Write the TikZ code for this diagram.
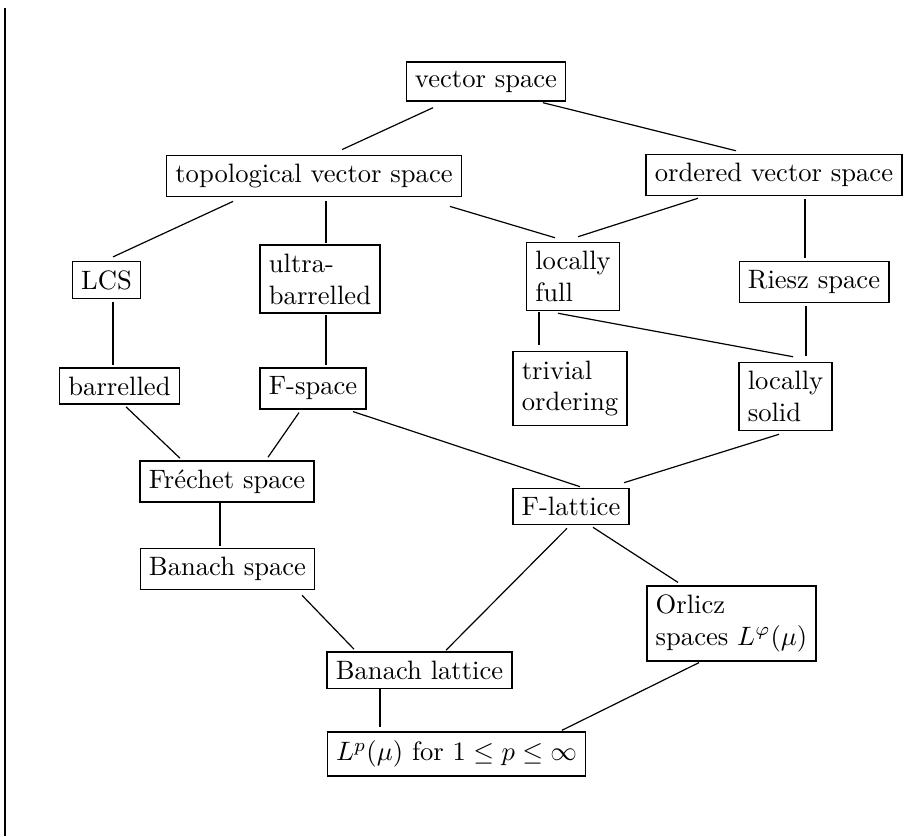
\documentclass[tikz,border=0pt]{standalone}
\begin{document}
\begin{tikzpicture}[x=0.376pt,y=-0.376pt,
  box/.style={draw, inner sep=3.3pt, align=left, line width=0.5pt},
  conn/.style={line width=0.45pt},
  bar/.style={line width=0.8pt}]
\useasboundingbox (0,0) rectangle (904,836);
\coordinate (bartop) at (5,8);
\coordinate (barbot) at (5,836);
\draw[bar] (bartop) -- (barbot);

\node[box] (vec) at (486,81.5) {vector space};
\node[box] (tvs) at (314,176) {topological vector space};
\node[box] (ovs) at (774,175) {ordered vector space};
\node[box] (lcs) at (106.5,280) {LCS};
\node[box] (ultra) at (320,279) {ultra-\\barrelled};
\node[box] (lfull) at (573,276.5) {locally\\full};
\node[box] (riesz) at (814,282) {Riesz space};
\node[box] (barrelled) at (119.5,386) {barrelled};
\node[box] (fspace) at (313,388.5) {F-space};
\node[box] (trivial) at (570,388.5) {trivial\\ordering};
\node[box] (lsolid) at (785.5,396.5) {locally\\solid};
\node[box] (frechet) at (227,481.5) {Fr\'echet space};
\node[box] (flattice) at (571,506.5) {F-lattice};
\node[box] (banach) at (227.5,569) {Banach space};
\node[box] (orlicz) at (731.5,623.5) {Orlicz\\spaces $L^\varphi(\mu)$};
\node[box] (blattice) at (419.5,670) {Banach lattice};
\node[box] (lp) at (456.5,754) {$L^p(\mu)$ for $1\le p\le\infty$};

\draw[conn] ([shift={(-53,6)}]vec.south) -- ([shift={(28,-5)}]tvs.north);
\draw[conn] ([shift={(57,1)}]vec.south) -- ([shift={(-38,-3)}]ovs.north);
\draw[conn] ([shift={(-81,4)}]tvs.south) -- ([shift={(6.5,-4)}]lcs.north);
\draw[conn] ([shift={(12,4)}]tvs.south) -- ([shift={(6,-1)}]ultra.north);
\draw[conn] ([shift={(136,9)}]tvs.south) -- ([shift={(-18,-4)}]lfull.north);
\draw[conn] ([shift={(-76,2)}]ovs.south) -- ([shift={(5,-5)}]lfull.north);
\draw[conn] ([shift={(31,3)}]ovs.south) -- ([shift={(-9,-3)}]riesz.north);
\draw[conn] ([shift={(6.5,3)}]lcs.south) -- ([shift={(-6.5,-2)}]barrelled.north);
\draw[conn] ([shift={(6,1)}]ultra.south) -- ([shift={(13,-2)}]fspace.north);
\draw[conn] ([shift={(-34,1)}]lfull.south) -- ([shift={(-31,-6)}]trivial.north);
\draw[conn] ([shift={(-15,2)}]lfull.south) -- ([shift={(7.5,-5)}]lsolid.north);
\draw[conn] ([shift={(-8,3)}]riesz.south) -- ([shift={(20.5,-6)}]lsolid.north);
\draw[conn] ([shift={(6.5,2)}]barrelled.south) -- ([shift={(-47,-2)}]frechet.north);
\draw[conn] ([shift={(-14,3)}]fspace.south) -- ([shift={(41,-3)}]frechet.north);
\draw[conn] ([shift={(40,2)}]fspace.south) -- ([shift={(9,-1)}]flattice.north);
\draw[conn] ([shift={(-6.5,3)}]lsolid.south) -- ([shift={(53,-5)}]flattice.north);
\draw[conn] ([shift={(-7,0)}]frechet.south) -- ([shift={(-7.5,-2)}]banach.north);
\draw[conn] ([shift={(-4,3)}]flattice.south) -- ([shift={(26.5,-1)}]blattice.north);
\draw[conn] ([shift={(22,2)}]flattice.south) -- ([shift={(-53.5,-3)}]orlicz.north);
\draw[conn] ([shift={(74.5,5)}]banach.south) -- ([shift={(-65.5,-2)}]blattice.north);
\draw[conn] ([shift={(-39.5,0)}]blattice.south) -- ([shift={(-76.5,-4)}]lp.north);
\draw[conn] ([shift={(-32.5,1)}]orlicz.south) -- ([shift={(105.5,-1)}]lp.north);
\end{tikzpicture}
\end{document}
